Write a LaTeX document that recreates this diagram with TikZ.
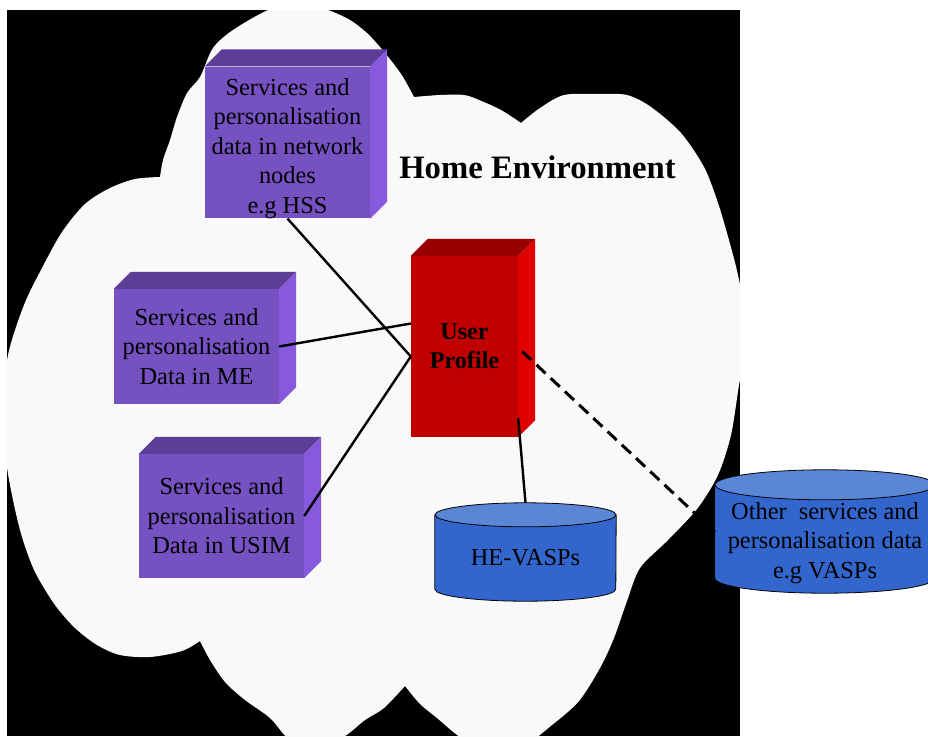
\documentclass[tikz,border=0pt]{standalone}
\usepackage{fontspec}
\setmainfont{Liberation Serif}
\usepackage{xcolor}
\usetikzlibrary{calc}
\definecolor{cloud-grey}{RGB}{249,249,249}
\definecolor{violet-front}{RGB}{118,81,193}
\definecolor{violet-top}{RGB}{92,61,151}
\definecolor{violet-side}{RGB}{134,89,221}
\definecolor{red-front}{RGB}{192,0,0}
\definecolor{red-top}{RGB}{153,0,0}
\definecolor{red-side}{RGB}{224,0,0}
\definecolor{store-body}{RGB}{51,102,204}
\definecolor{store-top}{RGB}{91,134,214}
\pgfdeclarelayer{background}
\pgfsetlayers{background,main}
\tikzset{
    data-box/.style = {rectangle, fill=violet-front, minimum width=165pt, inner sep=0pt, align=center, font=\fontsize{24.4}{29.5}\selectfont},
    profile-box/.style = {rectangle, fill=red-front, minimum width=107pt, minimum height=181pt, inner sep=0pt, align=center, font=\fontsize{24.2}{29}\selectfont\bfseries},
    store/.style = {rectangle, inner sep=0pt, align=center, font=\fontsize{24.4}{29.5}\selectfont},
    link-line/.style = {line width=2.4pt},
    link-dashed/.style = {line width=3pt, dash pattern=on 12.5pt off 7pt},
}
\newcommand{\boxfaces}[3]{%
    \fill[#2] (#1.north west) -- ++(17pt,17pt) -- ([shift={(17pt,17pt)}]#1.north east) -- (#1.north east) -- cycle;
    \fill[#3] (#1.north east) -- ++(17pt,17pt) -- ([shift={(17pt,17pt)}]#1.south east) -- (#1.south east) -- cycle;
}
\newcommand{\storeshape}[3]{%
    \fill[store-body] (#1.north west) -- ([yshift=#3]#1.south west) arc[start angle=180, end angle=360, x radius=#2, y radius=#3] -- (#1.north east) -- cycle;
    \fill[store-top] (#1.north) ellipse[x radius=#2, y radius=#3];
    \draw[line width=0.8pt] (#1.north west) -- ([yshift=#3]#1.south west) arc[start angle=180, end angle=360, x radius=#2, y radius=#3] -- (#1.north east);
    \draw[line width=0.8pt] (#1.north) ellipse[x radius=#2, y radius=#3];
}

\begin{document}
\begin{tikzpicture}[x=1pt, y=-1pt]
\useasboundingbox (0,0) rectangle (928,736);

\node[data-box, minimum height=151pt] (hss) at (287.5,142.5) {\rule{0pt}{28.5pt}Services and\\personalisation\\data in network\\nodes\\e.g HSS};
\node[data-box, minimum height=115pt] (me) at (196.5,346.5) {Services and\\personalisation\\Data in ME};
\node[data-box, minimum height=124pt] (usim) at (221.5,516) {Services and\\personalisation\\Data in USIM};
\node[profile-box] (profile) at (464.5,346.5) {User\\Profile};
\node[font=\fontsize{32.7}{39}\selectfont\bfseries, anchor=base] (home) at (537.5,178) {Home Environment};
\node[store, minimum width=181pt, minimum height=86pt] (he) at (525.5,558) {HE-VASPs};
\node[store, minimum width=220pt, minimum height=108pt] (other) at (825,539) {\rule{0pt}{25pt}Other~ services and\\personalisation data\\e.g VASPs};

\boxfaces{hss}{violet-top}{violet-side}
\boxfaces{me}{violet-top}{violet-side}
\boxfaces{usim}{violet-top}{violet-side}
\boxfaces{profile}{red-top}{red-side}

\begin{pgfonlayer}{background}
\fill[white] (0,0) rectangle (928,736);
\fill[black] (7,10) rectangle (740,736);
\begin{scope}
\clip (7,10) rectangle (740,736);
\fill[cloud-grey]
    plot[smooth] coordinates {(160,177) (163,160) (170,140) (177,117) (187,93) (200,77) (213,48) (233,30) (268,10) (298,2) (328,10) (350,20) (367,33) (380,47) (393,63) (403,77) (414,97)}
 -- plot[smooth] coordinates {(414,97) (440,95) (464,95) (479,100) (501,110) (521,123)}
 -- plot[smooth] coordinates {(521,123) (540,108) (564,95) (598,94) (627,95) (651,107) (681,133) (704,167) (717,200) (727,233) (738,275) (746,320) (744,360) (739,385) (731,435) (718,475) (697,509) (667,541) (640,568) (627,601) (614,638) (600,668) (579,701) (552,725) (520,748) (485,748) (460,737) (437,718) (420,704) (405,686)}
 -- plot[smooth] coordinates {(405,686) (384,708) (365,720) (345,736) (318,748) (290,740) (270,718) (245,700) (225,682) (210,660) (200,641)}
 -- plot[smooth] coordinates {(200,641) (182,651) (150,657) (120,655) (97,645) (75,628) (55,605) (35,572) (22,537) (13,500) (6,460) (3,410) (8,355) (24,305) (42,268) (62,232) (85,204) (110,188) (135,179) (160,177)}
 -- cycle;
\end{scope}
\storeshape{he}{90.5pt}{12pt}
\storeshape{other}{110pt}{15pt}
\end{pgfonlayer}

\draw[link-line] (hss.south) -- ([yshift=-10pt]profile.west);
\draw[link-line] (me.east) -- ([yshift=23pt]profile.west);
\draw[link-line] (usim.east) -- ([yshift=-10pt]profile.west);
\draw[link-line] ([yshift=19pt]profile.south east) -- ([yshift=12pt]he.north);
\draw[link-dashed] ([shift={(4pt,-5pt)}]profile.east) -- ([yshift=7pt]other.west);
\end{tikzpicture}
\end{document}
